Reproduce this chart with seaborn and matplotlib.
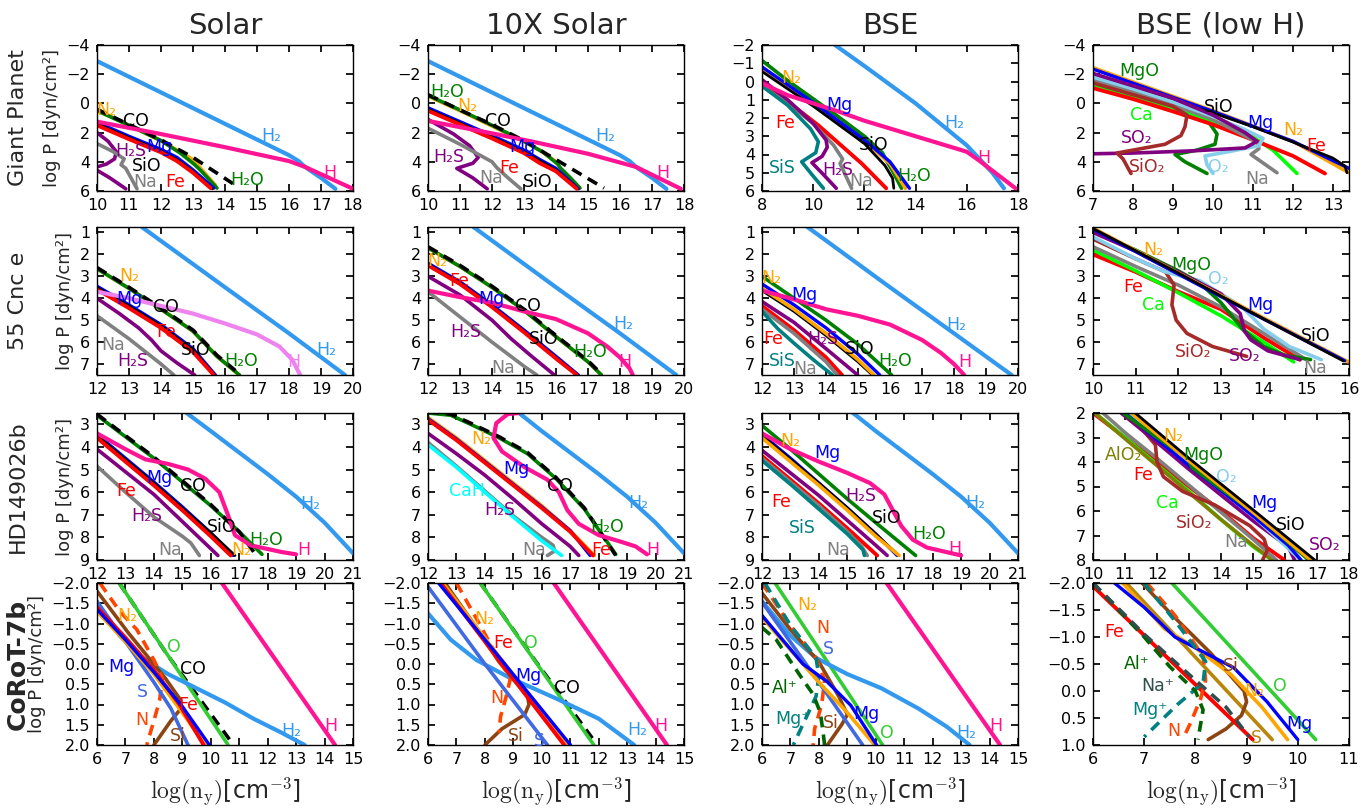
import matplotlib
matplotlib.use("Agg")
import matplotlib.pyplot as plt
import seaborn as sns
import numpy as np

COLUMN_TITLES = ["Solar", "10X Solar", "BSE", "BSE (low H)"]
ROW_TITLES = ["Giant Planet", "55 Cnc e", "HD149026b", "CoRoT-7b"]

SPECIES_TEXT = {
    "H2": "H\u2082", "H": "H", "H_v": "H", "H2O": "H\u2082O", "CO": "CO", "N2": "N\u2082",
    "Mg": "Mg", "Fe": "Fe", "SiO": "SiO", "H2S": "H\u2082S", "Na": "Na", "SiS": "SiS",
    "MgO": "MgO", "Ca": "Ca", "SO2": "SO\u2082", "SiO2": "SiO\u2082", "O2": "O\u2082",
    "CaH": "CaH", "AlO2": "AlO\u2082", "O": "O", "S": "S", "S_g": "S", "N": "N",
    "Si": "Si", "Al+": "Al\u207a", "Mg+": "Mg\u207a", "Na+": "Na\u207a",
}

# ---------------- Giant Planet ----------------
gp_solar = {
    "N2": ([10, 11, 12, 13, 13.7], [0.45, 1.5, 2.55, 3.85, 5.6]),
    "H2O": ([10, 11, 12, 12.6, 13.0, 13.2, 13.5, 13.75], [0.5, 1.5, 2.55, 3.4, 4.1, 4.5, 5.2, 5.8]),
    "CO": ([10, 11, 12, 13, 14.25], [0.4, 1.45, 2.5, 3.7, 5.5]),
    "Mg": ([10, 11, 12, 12.5, 13, 13.65], [1.3, 2.25, 3.15, 3.7, 4.55, 5.8]),
    "SiO": ([10, 11, 12, 12.5, 13, 13.6], [1.4, 2.35, 3.25, 3.85, 4.65, 5.85]),
    "Fe": ([10, 11, 12, 12.5, 13, 13.55], [1.5, 2.45, 3.35, 3.95, 4.75, 5.8]),
    "H2S": ([10.0, 10.35, 10.6, 10.55, 10.3, 10.0, 9.9, 10.4, 10.9], [2.0, 2.6, 3.3, 3.8, 4.15, 4.35, 4.45, 5.1, 5.85]),
    "Na": ([10, 10.5, 10.85, 10.75, 10.9, 11.25], [2.75, 3.3, 3.8, 4.2, 4.45, 5.85]),
    "H2": ([10, 12, 14, 16, 16.3, 16.5, 17, 17.45], [-2.9, -0.75, 1.4, 3.55, 3.95, 4.35, 5.1, 5.85]),
    "H": ([10, 12, 14, 16, 16.5, 17, 18], [1.25, 2.1, 3.0, 3.95, 4.35, 4.85, 5.85]),
}
gp_solar_labels = [("N2", 10.3, 0.45), ("CO", 11.23, 1.2), ("Mg", 11.96, 2.96), ("H2S", 11.07, 3.28),
                   ("SiO", 11.55, 4.3), ("Na", 11.5, 5.4), ("Fe", 12.43, 5.4), ("H2O", 14.7, 5.23),
                   ("H2", 15.44, 2.26), ("H", 17.28, 4.8)]

gp_10x = {
    "N2": ([10, 11, 12, 13, 13.6, 14.0], [-0.5, 0.5, 1.55, 2.6, 3.35, 4.0]),
    "H2O": ([10, 11, 12, 13, 13.6, 14.05, 14.15, 14.45, 14.75], [-0.55, 0.45, 1.5, 2.6, 3.35, 4.15, 4.45, 5.1, 5.8]),
    "CO": ([10, 11, 12, 13, 14, 15.5], [-0.6, 0.45, 1.45, 2.55, 3.85, 5.8]),
    "Mg": ([10, 11, 12, 13, 13.5, 14, 14.7], [0.3, 1.25, 2.2, 3.2, 3.85, 4.45, 5.85]),
    "SiO": ([10, 11, 12, 13, 13.5, 14, 14.68], [0.4, 1.35, 2.3, 3.3, 3.95, 4.55, 5.85]),
    "Fe": ([10, 11, 12, 13, 13.5, 14, 14.65], [0.5, 1.45, 2.4, 3.4, 4.1, 4.65, 5.85]),
    "H2S": ([10, 10.8, 11.3, 11.57, 11.4, 10.9, 11.4, 11.85], [1.1, 2.1, 2.9, 3.7, 4.1, 4.45, 5.1, 5.85]),
    "Na": ([10, 11, 12, 12.15, 12.5, 12.9], [1.7, 2.8, 4.0, 4.4, 5.1, 5.85]),
    "H2": ([10, 12, 14, 16, 16.3, 16.5, 17, 17.45], [-2.9, -0.75, 1.4, 3.55, 3.95, 4.35, 5.1, 5.85]),
    "H": ([10, 12, 13.33, 15, 16.5, 17.9], [1.2, 2.05, 2.65, 3.45, 4.35, 5.85]),
}
gp_10x_labels = [("H2O", 10.59, -0.75), ("N2", 11.22, 0.2), ("CO", 12.2, 1.2), ("Mg", 12.96, 2.96),
                 ("H2S", 10.64, 3.64), ("Fe", 12.55, 4.45), ("Na", 11.96, 5.1), ("SiO", 13.43, 5.4),
                 ("H2", 15.53, 2.26), ("H", 17.34, 4.77)]

gp_bse = {
    "H2O": ([8, 9, 10, 11, 12, 12.7, 12.85, 13.1, 13.45], [-1.15, -0.05, 0.95, 1.95, 3.0, 3.9, 4.3, 4.9, 5.85]),
    "N2": ([8, 10, 12, 13, 13.6], [-0.7, 1.2, 3.25, 4.5, 5.85]),
    "Mg": ([8, 10, 12, 13, 13.76], [-0.8, 1.15, 3.2, 4.4, 5.85]),
    "SiO": ([8, 10, 12, 12.8, 13.1, 13.15], [-0.55, 1.35, 3.4, 4.6, 5.3, 5.85]),
    "Fe": ([8, 9, 10.2, 11.9, 12.85], [0.05, 1.1, 2.4, 4.5, 5.85]),
    "Na": ([8, 9, 10, 10.8, 11.15, 11.05, 11.5], [0.25, 1.2, 2.3, 3.5, 4.25, 4.5, 5.85]),
    "H2S": ([8, 9, 10, 10.5, 10.55, 10.35, 9.95, 10.4, 10.9], [-0.1, 1.0, 2.3, 3.2, 3.6, 4.1, 4.45, 5.1, 5.85]),
    "SiS": ([8, 9, 9.9, 10.2, 10.1, 9.55, 9.95, 10.4], [0.25, 1.3, 2.6, 3.3, 3.9, 4.4, 5.1, 5.85]),
    "H2": ([10.85, 12, 14, 16, 16.4, 17, 17.45], [-2, -0.85, 1.2, 3.5, 4.1, 5.0, 5.85]),
    "H": ([8, 9, 10, 11, 12, 14, 16, 16.5, 17.9], [0.1, 0.75, 1.2, 1.65, 2.15, 3.0, 3.85, 4.35, 5.85]),
}
gp_bse_labels = [("N2", 9.15, -0.17), ("Mg", 11.03, 1.28), ("Fe", 8.9, 2.3), ("SiO", 12.36, 3.5),
                 ("SiS", 8.8, 4.72), ("H2S", 10.97, 4.86), ("Na", 11.88, 5.45), ("H2O", 13.94, 5.2),
                 ("H2", 15.5, 2.3), ("H", 16.67, 4.18)]

gp_low = {
    "N2": ([7, 10, 12, 13.4], [-2.45, 0.5, 2.6, 4.75]),
    "Mg": ([7, 10, 12, 13.4], [-2.35, 0.55, 2.6, 4.45]),
    "SiO": ([7, 8, 9, 10, 11, 12, 13, 13.3, 13.35], [-2.05, -1.1, -0.2, 0.65, 1.6, 2.65, 3.75, 4.3, 4.75]),
    "MgO": ([7, 8, 9, 9.5, 9.9, 10.1, 10.05, 9.6, 9.05, 9.3, 9.85], [-1.5, -0.7, 0.1, 0.6, 1.3, 2.1, 2.8, 3.2, 3.5, 4.0, 4.8]),
    "Ca": ([7, 8, 9, 10, 11, 11.5, 12.1], [-1.3, -0.5, 0.35, 1.25, 2.3, 3.2, 4.8]),
    "Fe": ([7, 8, 9, 10, 11, 12, 12.8], [-1.05, -0.3, 0.55, 1.45, 2.5, 3.6, 4.8]),
    "Na": ([7, 8, 9, 10, 11.1, 11.15, 10.95, 11.6], [-1.6, -0.8, 0.1, 1.1, 2.65, 3.1, 3.5, 4.75]),
    "O2": ([7, 8, 9, 10, 10.8, 11.25, 11.15, 10.4, 9.8, 9.85, 10.0], [-1.8, -1.0, -0.1, 0.9, 1.8, 2.4, 2.9, 3.3, 3.6, 4.2, 4.8]),
    "SO2": ([7, 8, 9, 10, 10.8, 11.1, 10.8, 9.5, 8, 7], [-2.05, -1.2, -0.35, 0.8, 2.0, 2.6, 3.05, 3.25, 3.4, 3.45]),
    "SiO2": ([7, 8, 9, 9.35, 9.3, 9.2, 8.8, 8, 7.6, 7.75, 7.95], [-1.4, -0.6, 0.2, 0.8, 1.6, 2.2, 2.8, 3.2, 3.4, 3.8, 4.8]),
}
gp_low_labels = [("MgO", 8.16, -2.22), ("SiO", 10.14, 0.28), ("Ca", 8.2, 0.8), ("Mg", 11.19, 1.33),
                 ("N2", 12.0, 1.84), ("Fe", 12.59, 2.9), ("SO2", 8.09, 2.39), ("SiO2", 8.36, 4.34),
                 ("O2", 10.14, 4.34), ("Na", 11.1, 5.2)]

# ---------------- 55 Cnc e ----------------
cnc_solar = {
    "N2": ([12, 13, 14, 15, 15.75, 16.45], [2.65, 3.55, 4.5, 5.5, 6.65, 7.5]),
    "H2O": ([12, 13, 14, 15, 15.75, 16.45], [2.65, 3.55, 4.5, 5.5, 6.65, 7.5]),
    "CO": ([12, 13, 14, 15, 15.75, 16.45], [2.6, 3.5, 4.45, 5.45, 6.6, 7.45]),
    "Mg": ([12, 13, 14, 15, 15.7], [3.45, 4.3, 5.2, 6.3, 7.5]),
    "SiO": ([12, 13, 14, 15, 15.68], [3.5, 4.35, 5.25, 6.35, 7.5]),
    "Fe": ([12, 13, 14, 15, 15.65], [3.6, 4.45, 5.35, 6.45, 7.5]),
    "H2S": ([12, 12.7, 13.3, 13.7, 14.0, 14.5, 15.05], [4.0, 4.7, 5.35, 5.9, 6.4, 6.95, 7.5]),
    "Na": ([12, 13, 14, 14.4], [4.8, 5.85, 7.0, 7.5]),
    "H2": ([13.4, 16, 18, 19.75], [0.75, 3.5, 5.6, 7.5]),
    "H_v": ([12, 13, 14, 15, 16, 17, 17.7, 18.1, 18.35], [3.7, 4.0, 4.35, 4.7, 5.15, 5.65, 6.2, 6.8, 7.5]),
}
cnc_solar_labels = [("N2", 13.02, 3.0), ("Mg", 13.0, 4.04), ("CO", 14.15, 4.39), ("Fe", 14.15, 5.53),
                    ("SiO", 15.07, 6.36), ("Na", 12.49, 6.14), ("H2S", 13.12, 6.86), ("H2O", 16.49, 6.86),
                    ("H_v", 18.15, 6.9), ("H2", 19.17, 6.36)]

cnc_10x = {
    "N2": ([12, 13, 14, 15, 16, 17, 17.42], [1.7, 2.55, 3.5, 4.55, 5.75, 6.9, 7.5]),
    "H2O": ([12, 13, 14, 15, 16, 17, 17.42], [1.7, 2.55, 3.5, 4.55, 5.75, 6.9, 7.5]),
    "CO": ([12, 13, 14, 15, 16, 17, 17.42], [1.65, 2.5, 3.45, 4.5, 5.7, 6.85, 7.45]),
    "Mg": ([12, 13, 14, 15, 16, 16.7], [2.4, 3.25, 4.3, 5.45, 6.65, 7.5]),
    "SiO": ([12, 13, 14, 15, 16, 16.68], [2.45, 3.3, 4.35, 5.5, 6.7, 7.5]),
    "Fe": ([12, 13, 14, 15, 16, 16.65], [2.5, 3.35, 4.4, 5.55, 6.75, 7.5]),
    "H2S": ([12, 13, 14, 14.6, 15.2, 15.95], [3.0, 3.85, 5.0, 5.85, 6.6, 7.5]),
    "Na": ([12, 13, 14, 15, 15.4], [3.7, 4.85, 6.0, 7.1, 7.5]),
    "H2": ([13.42, 16, 18, 19.76], [0.75, 3.5, 5.6, 7.5]),
    "H": ([12, 13, 14, 15, 16, 17, 17.6, 18.0, 18.3, 18.4], [3.65, 3.95, 4.2, 4.6, 4.95, 5.6, 6.2, 6.7, 7.2, 7.5]),
}
cnc_10x_labels = [("N2", 12.29, 2.29), ("Fe", 12.99, 3.21), ("Mg", 13.97, 4.04), ("CO", 15.12, 4.36),
                  ("H2S", 13.17, 5.53), ("SiO", 15.61, 5.86), ("H2O", 17.08, 6.43), ("Na", 14.34, 7.19),
                  ("H2", 18.1, 5.19), ("H", 18.15, 6.9)]

cnc_bse = {
    "H2O": ([12, 13, 14, 15, 16.05], [3.0, 4.0, 5.0, 6.1, 7.5]),
    "Mg": ([12, 13, 14, 15, 15.68], [3.35, 4.3, 5.35, 6.55, 7.5]),
    "SiO": ([12, 13, 14, 15, 15.45], [3.65, 4.6, 5.7, 6.9, 7.5]),
    "N2": ([12, 13, 14, 15, 15.5], [3.55, 4.5, 5.6, 6.8, 7.5]),
    "H2S": ([12, 13, 14, 14.99], [4.15, 5.1, 6.3, 7.5]),
    "Fe": ([12, 13, 14, 14.5], [4.35, 5.45, 6.7, 7.5]),
    "Na": ([12, 13, 14, 14.35], [4.5, 5.6, 6.9, 7.5]),
    "SiS": ([12, 12.5, 13, 13.6, 14.2], [4.6, 5.4, 6.05, 6.8, 7.5]),
    "H2": ([13.42, 16, 18, 19.8], [0.75, 3.5, 5.6, 7.5]),
    "H": ([12, 13, 14, 15, 16, 17, 17.6, 18.0, 18.32], [3.65, 4.05, 4.5, 4.8, 5.2, 5.9, 6.5, 7.0, 7.5]),
}
cnc_bse_labels = [("N2", 12.3, 3.07), ("Mg", 13.32, 3.86), ("Fe", 12.34, 5.86), ("H2S", 13.91, 5.86),
                  ("SiO", 15.04, 6.33), ("H2O", 16.17, 6.86), ("SiS", 12.64, 6.86), ("Na", 13.34, 7.21),
                  ("H2", 18.08, 5.21), ("H", 18.33, 6.9)]

cnc_low = {
    "Fe": ([10, 11, 12, 13, 14, 14.85], [2.0, 2.8, 3.7, 4.5, 5.8, 6.8]),
    "Ca": ([10, 11, 12, 13, 14, 14.7], [1.8, 2.75, 3.75, 4.8, 6.0, 6.9]),
    "Na": ([10, 11, 12, 13, 14, 15], [1.65, 2.55, 3.4, 4.4, 5.6, 6.8]),
    "SiO2": ([10, 11, 11.7, 11.9, 11.85, 11.95, 12.2, 12.8, 13.6], [1.3, 2.2, 2.8, 3.4, 4.3, 5.0, 5.6, 6.2, 6.65]),
    "O2": ([10, 11, 11.7, 12.5, 13.5, 14, 14.6, 15.35], [1.2, 2.2, 2.8, 3.2, 4.4, 5.4, 6.2, 6.8]),
    "MgO": ([10, 11, 12, 12.5, 13, 13.5, 14, 14.5, 15.1], [0.95, 1.8, 2.75, 3.3, 4.2, 5.4, 6.2, 6.6, 6.8]),
    "SO2": ([10, 11, 12, 13, 13.45, 13.55, 13.7, 14.1, 14.85], [1.0, 1.85, 2.8, 3.8, 4.7, 5.5, 5.9, 6.4, 6.8]),
    "N2": ([10, 12, 14, 15.98], [0.8, 2.85, 4.9, 6.9]),
    "Mg": ([10, 12, 14, 15.9], [0.85, 2.9, 4.95, 6.85]),
    "SiO": ([10, 12, 14, 15.87], [0.82, 2.85, 4.95, 6.86]),
}
cnc_low_labels = [("N2", 11.41, 1.79), ("MgO", 12.31, 2.5), ("O2", 12.93, 3.14), ("Fe", 10.95, 3.5),
                  ("Ca", 11.41, 4.33), ("Mg", 13.92, 4.33), ("SiO", 15.21, 5.71), ("SiO2", 12.35, 6.47),
                  ("SO2", 13.56, 6.64), ("Na", 15.21, 7.19)]

# ---------------- HD149026b ----------------
hd_solar = {
    "N2": ([12, 13, 14, 15, 16, 16.75], [3.5, 4.55, 5.6, 6.7, 7.85, 8.8]),
    "H2O": ([12, 13, 14, 15, 16, 17, 17.8], [2.6, 3.55, 4.5, 5.55, 6.6, 7.75, 8.75]),
    "CO": ([12, 13, 14, 15, 16, 17, 17.6], [2.55, 3.5, 4.45, 5.5, 6.55, 7.75, 8.8]),
    "Mg": ([12, 13, 14, 15, 16, 16.8], [3.45, 4.5, 5.55, 6.65, 7.8, 8.8]),
    "SiO": ([12, 13, 14, 15, 16, 16.85], [3.5, 4.55, 5.6, 6.7, 7.8, 8.8]),
    "Fe": ([12, 13, 14, 15, 16, 16.7], [3.6, 4.65, 5.7, 6.8, 7.95, 8.8]),
    "H2S": ([12, 13, 14, 15, 16, 16.25], [4.1, 5.1, 6.1, 7.3, 8.5, 8.8]),
    "Na": ([12, 13, 14, 15, 15.3, 15.6], [4.85, 6.0, 7.1, 7.95, 8.25, 8.8]),
    "H2": ([15.15, 16, 17, 18, 19, 20, 21], [2.5, 3.3, 4.25, 5.2, 6.2, 7.35, 8.7]),
    "H": ([12, 13, 13.7, 14.5, 15.2, 15.8, 16.3, 16.6, 16.85, 17.4, 18.5, 19.0], [3.4, 4.1, 4.55, 4.75, 5.0, 5.4, 6.0, 7.0, 7.9, 8.35, 8.65, 8.75]),
}
hd_solar_labels = [("Mg", 14.2, 5.39), ("CO", 15.38, 5.71), ("Fe", 13.03, 5.95), ("H2S", 13.76, 7.06),
                   ("SiO", 16.4, 7.54), ("H2O", 17.95, 8.1), ("Na", 14.57, 8.57), ("N2", 17.07, 8.57),
                   ("H", 19.27, 8.57), ("H2", 19.49, 6.54)]

hd_10x = {
    "H2O": ([12, 12.8, 13.5, 14.5, 15.5, 16.5, 17.5, 18.6], [2.5, 2.6, 3.0, 3.6, 4.3, 5.4, 6.75, 8.75]),
    "CO": ([12, 12.8, 13.5, 14.5, 15.5, 16.5, 17.5, 18.6], [2.45, 2.55, 2.95, 3.55, 4.25, 5.35, 6.7, 8.8]),
    "N2": ([12, 13, 14, 15, 16, 17, 17.85], [2.7, 3.6, 4.6, 5.6, 6.6, 7.7, 8.8]),
    "Mg": ([12, 13, 14, 15, 16, 17, 17.7], [2.75, 3.65, 4.65, 5.65, 6.65, 7.7, 8.8]),
    "Fe": ([12, 13, 14, 15, 16, 17, 17.8], [2.8, 3.7, 4.7, 5.7, 6.7, 7.75, 8.8]),
    "H2S": ([12, 13, 14, 15, 16, 17, 17.3], [3.4, 4.3, 5.25, 6.3, 7.4, 8.4, 8.8]),
    "Na": ([12, 13, 14, 15, 16, 16.4, 16.45, 16.2], [3.8, 4.85, 5.95, 7.05, 8.0, 8.35, 8.6, 8.8]),
    "CaH": ([12, 13, 14, 15, 16, 16.7], [3.9, 4.9, 6.0, 7.1, 8.15, 8.8]),
    "H2": ([15.2, 16, 17, 18, 19, 20, 21], [2.5, 3.3, 4.25, 5.2, 6.2, 7.35, 8.7]),
    "H": ([15.2, 14.8, 14.4, 14.3, 14.6, 15.4, 16.2, 16.6, 16.9, 17.3, 18.0, 18.8, 19.3, 19.7],
          [2.5, 2.55, 2.95, 3.6, 4.2, 4.9, 5.45, 6.0, 6.8, 7.4, 7.9, 8.2, 8.4, 8.75]),
}
hd_10x_labels = [("N2", 13.88, 3.67), ("Mg", 15.09, 4.98), ("CO", 16.65, 5.71), ("CaH", 13.38, 5.95),
                 ("H2S", 14.52, 6.78), ("H2O", 18.3, 7.54), ("Na", 15.73, 8.57), ("Fe", 18.1, 8.57),
                 ("H", 19.9, 8.57), ("H2", 19.4, 6.5)]

hd_bse = {
    "H2O": ([12, 13, 14, 15, 16, 17.4], [3.05, 4.1, 5.2, 6.3, 7.35, 8.8]),
    "Mg": ([12, 13, 14, 15, 16, 16.75], [3.45, 4.5, 5.6, 6.7, 7.85, 8.8]),
    "SiO": ([12, 13, 14, 15, 16, 16.8], [3.5, 4.55, 5.6, 6.7, 7.85, 8.8]),
    "N2": ([12, 13, 14, 15, 16, 16.82], [3.6, 4.65, 5.7, 6.8, 7.95, 8.8]),
    "H2S": ([12, 13, 14, 15, 16, 16.4], [4.15, 5.15, 6.15, 7.25, 8.35, 8.8]),
    "Fe": ([12, 13, 14, 15, 15.7, 16.05], [4.4, 5.45, 6.5, 7.6, 8.4, 8.8]),
    "Na": ([12, 13, 14, 15, 15.5, 15.7], [4.5, 5.55, 6.6, 7.75, 8.4, 8.8]),
    "SiS": ([12, 13, 14, 15, 15.55, 15.6], [4.6, 5.65, 6.75, 7.85, 8.55, 8.8]),
    "H2": ([15.2, 16, 17, 18, 19, 20, 21], [2.5, 3.3, 4.25, 5.2, 6.2, 7.35, 8.7]),
    "H": ([12, 12.5, 13, 14, 15, 15.8, 16.3, 16.6, 16.9, 17.3, 17.8, 19], [3.4, 3.75, 4.1, 4.65, 5.15, 5.6, 6.1, 6.8, 7.5, 8.1, 8.45, 8.8]),
}
hd_bse_labels = [("N2", 12.99, 3.74), ("Mg", 14.29, 4.29), ("H2S", 15.46, 6.15), ("Fe", 12.68, 6.43),
                 ("SiO", 16.39, 7.13), ("SiS", 13.42, 7.6), ("H2O", 17.86, 7.85), ("Na", 14.68, 8.57),
                 ("H", 18.79, 8.5), ("H2", 19.5, 6.5)]

hd_low = {
    "Fe": ([10.0, 11, 12, 13, 14, 15, 15.98], [2.0, 3.0, 4.0, 5.0, 6.0, 7.1, 8.0]),
    "Ca": ([10.06, 11, 12, 13, 14, 15, 15.6], [2.0, 3.0, 4.1, 5.2, 6.35, 7.45, 8.0]),
    "AlO2": ([10.06, 11, 12, 13, 14, 15, 15.6], [2.0, 3.05, 4.15, 5.25, 6.35, 7.4, 8.0]),
    "Na": ([10.31, 11, 12, 13, 14, 15, 15.73], [2.0, 2.8, 3.85, 4.95, 6.05, 7.15, 8.0]),
    "SiO2": ([10.9, 11.5, 11.95, 12.0, 12.2, 12.8, 13.8, 14.9, 15.35, 15.45, 15.3], [2.0, 2.6, 3.3, 4.0, 4.6, 5.2, 5.75, 6.6, 7.15, 7.6, 8.0]),
    "SO2": ([10.88, 12, 13, 14, 15, 16.1, 16.3], [2.0, 3.2, 4.3, 5.35, 6.4, 7.46, 8.0]),
    "O2": ([11.13, 12, 13, 13.3, 14, 15, 16.49], [2.0, 2.95, 4.0, 4.35, 5.1, 6.2, 8.0]),
    "Mg": ([11.0, 13, 15, 16.1, 16.5], [2.0, 4.15, 6.2, 7.4, 8.0]),
    "MgO": ([10.94, 12, 12.96, 13.09, 14, 14.97, 16.74], [2.0, 3.0, 3.84, 4.22, 5.1, 6.0, 8.0]),
    "N2": ([11.2, 13, 15, 16.8], [2.0, 3.95, 6.05, 8.0]),
    "SiO": ([11.32, 13, 15, 16.93], [2.0, 3.85, 5.95, 8.0]),
}
hd_low_labels = [("N2", 12.52, 2.95), ("AlO2", 10.94, 3.72), ("MgO", 13.46, 3.72), ("Fe", 11.57, 4.54),
                 ("O2", 14.16, 4.6), ("Ca", 12.33, 5.69), ("Mg", 15.35, 5.69), ("SiO2", 13.15, 6.51),
                 ("SiO", 16.17, 6.57), ("Na", 14.48, 7.27), ("SO2", 17.24, 7.4)]

# ---------------- CoRoT-7b ----------------
co_solar = {
    "H": ([10.39, 14.37], [-2.0, 2.0]),
    "CO": ([6.78, 8.5, 10.75], [-2.0, -0.2, 1.95]),
    "O": ([6.78, 10.61], [-2.0, 2.0]),
    "H2": ([6, 6.8, 7.6, 8.5, 9.5, 10.5, 11.5, 12.5, 13.3], [-1.5, -0.7, -0.15, 0.25, 0.6, 0.95, 1.35, 1.7, 2.0]),
    "Si": ([6, 7.1, 8.4, 8.95, 8.95, 8.6, 8.0], [-1.8, -0.77, 0.35, 0.9, 1.1, 1.4, 2.0]),
    "N": ([6.1, 6.8, 7.4, 8.0, 8.3, 8.2, 8.0, 7.75], [-2.0, -1.3, -0.85, -0.1, 0.35, 0.9, 1.4, 2.0]),
    "S": ([6, 7, 8, 8.6, 9.2], [-1.55, -0.55, 0.45, 1.1, 2.0]),
    "N2": ([6, 7, 8, 9, 9.8], [-1.3, -0.55, 0.25, 1.2, 2.0]),
    "Fe": ([6, 7, 8, 8.9, 9.75], [-1.4, -0.65, 0.15, 1.0, 2.0]),
    "Mg": ([6, 7, 8, 9, 9.95], [-1.35, -0.6, 0.2, 1.05, 2.0]),
}
co_solar_labels = [("N2", 7.08, -1.19), ("O", 8.7, -0.43), ("Mg", 6.85, 0.07), ("CO", 9.36, 0.13),
                   ("S", 7.59, 0.68), ("Fe", 9.21, 1.02), ("N", 7.59, 1.38), ("Si", 8.84, 1.79),
                   ("H2", 12.82, 1.66), ("H", 14.22, 1.53)]

co_10x = {
    "H": ([10.42, 14.4], [-2.0, 2.0]),
    "CO": ([7.84, 9.8, 11.9], [-2.0, -0.05, 1.95]),
    "O": ([7.84, 11.83], [-2.0, 2.0]),
    "H2": ([6, 6.8, 7.7, 8.9, 10.5, 12, 13.25], [-1.25, -0.6, -0.1, 0.35, 0.85, 1.35, 2.0]),
    "Si": ([6.6, 7.5, 8.5, 9.5, 9.55, 9.4, 8.6, 8.0], [-2.0, -1.1, -0.05, 0.8, 1.0, 1.25, 1.6, 2.0]),
    "N": ([7.0, 7.8, 8.5, 8.9, 8.75, 8.55, 8.5], [-2.0, -1.0, -0.1, 0.35, 0.8, 1.3, 1.7]),
    "S": ([6, 8, 10.2], [-1.91, 0.0, 2.0]),
    "N2": ([6.52, 8.7, 10.87], [-2.0, 0.0, 2.0]),
    "Fe": ([6.44, 8.6, 10.79], [-2.0, 0.0, 2.0]),
    "Mg": ([6.37, 8.7, 11.01], [-2.0, 0.0, 2.0]),
}
co_10x_labels = [("N2", 7.99, -1.11), ("Fe", 8.65, -0.51), ("O", 9.61, -0.51), ("Mg", 9.54, 0.3),
                 ("CO", 10.87, 0.6), ("N", 8.43, 0.85), ("Si", 9.1, 1.79), ("S", 9.91, 1.91),
                 ("H2", 13.37, 1.62), ("H", 14.18, 1.53)]

co_bse = {
    "H": ([10.38, 14.37], [-2.0, 2.0]),
    "O": ([6.46, 10.24], [-2.0, 2.0]),
    "H2": ([6, 7, 7.9, 9, 10.2, 11.5, 12.5, 13.3], [-1.55, -0.7, -0.15, 0.25, 0.6, 1.1, 1.55, 2.0]),
    "Si": ([6.0, 7.0, 8.0, 8.7, 9.0, 8.8, 8.3], [-1.75, -0.85, -0.05, 0.8, 1.25, 1.5, 2.0]),
    "N": ([6.0, 7.0, 7.9, 8.2, 8.1, 7.85, 7.8], [-2.0, -0.95, -0.15, 0.4, 1.0, 1.6, 2.0]),
    "Mg+": ([6.1, 7.0, 7.9, 8.0, 7.9, 7.5, 7.1], [-2.0, -0.95, -0.15, 0.3, 0.8, 1.4, 2.0]),
    "Al+": ([6.0, 6.5, 7.4, 7.8, 8.05, 8.15, 8.2], [-0.9, -0.6, 0.35, 0.75, 1.2, 1.7, 2.0]),
    "S": ([6, 7.8, 9.54], [-1.53, 0.25, 2.0]),
    "N2": ([6, 7, 8, 9, 9.96], [-1.15, -0.35, 0.45, 1.2, 2.0]),
    "Mg": ([6, 7.44, 8.28, 9.12, 10.03], [-1.2, 0.0, 0.43, 1.02, 2.0]),
}
co_bse_labels = [("N2", 7.58, -1.45), ("N", 8.14, -0.89), ("S", 8.35, -0.38), ("Al+", 6.81, 0.6),
                 ("Mg+", 7.09, 1.36), ("Si", 8.42, 1.45), ("Mg", 9.68, 1.23), ("O", 10.38, 1.7),
                 ("H2", 13.18, 1.7), ("H", 14.23, 1.53)]

co_low = {
    "O": ([7.54, 10.35], [-2.0, 0.9]),
    "S_g": ([6.65, 9.5], [-2.0, 0.9]),
    "Si": ([6.96, 7.5, 8.3, 8.95, 9.0, 8.9, 8.6, 8.25], [-2.0, -1.45, -0.7, 0.0, 0.2, 0.45, 0.7, 0.9]),
    "N2": ([6.58, 7.4, 8.0, 8.7, 9.3, 9.8], [-2.0, -1.15, -0.8, -0.3, 0.3, 0.9]),
    "Mg": ([6.42, 7.0, 7.6, 8.2, 8.75, 9.4, 10.0], [-2.0, -1.55, -1.0, -0.7, -0.43, 0.2, 0.9]),
    "Fe": ([6, 9.12], [-1.94, 0.9]),
    "N": ([7.05, 7.6, 8.15, 8.2, 8.1, 7.9, 7.75], [-2.0, -1.4, -0.65, -0.2, 0.15, 0.6, 0.9]),
    "Mg+": ([7.0, 7.6, 8.2, 8.15, 7.65, 7.0], [-2.0, -1.3, -0.55, -0.15, 0.25, 0.85]),
    "Al+": ([6.0, 6.5, 7.0, 7.5, 8.0, 8.15, 8.05], [-2.0, -1.5, -1.0, -0.45, 0.0, 0.35, 0.9]),
    "Na+": ([6.0, 7.0, 8.0, 8.6, 9.05], [-2.0, -1.05, -0.2, 0.3, 0.85]),
}
co_low_labels = [("Fe", 6.42, -1.1), ("Si", 8.69, -0.47), ("Al+", 6.85, -0.5), ("Na+", 7.27, -0.1),
                 ("N2", 9.15, 0.0), ("O", 9.65, -0.1), ("Mg+", 7.12, 0.36), ("Mg", 10.04, 0.62),
                 ("N", 7.58, 0.75), ("S_g", 9.19, 0.87)]

PANELS = [
    [(gp_solar, gp_solar_labels), (gp_10x, gp_10x_labels), (gp_bse, gp_bse_labels), (gp_low, gp_low_labels)],
    [(cnc_solar, cnc_solar_labels), (cnc_10x, cnc_10x_labels), (cnc_bse, cnc_bse_labels), (cnc_low, cnc_low_labels)],
    [(hd_solar, hd_solar_labels), (hd_10x, hd_10x_labels), (hd_bse, hd_bse_labels), (hd_low, hd_low_labels)],
    [(co_solar, co_solar_labels), (co_10x, co_10x_labels), (co_bse, co_bse_labels), (co_low, co_low_labels)],
]

# ---------------- styling ----------------
STYLE = {  # color, linestyle, linewidth
    "H2": ("#3399ee", "-", 3.0), "H": ("#ff1493", "-", 3.0), "H_v": ("#ee82ee", "-", 3.0),
    "H2O": ("#008000", "-", 2.6), "CO": ("black", (0, (3, 2)), 2.6), "N2": ("#ffa500", "-", 2.6),
    "Mg": ("#0000ff", "-", 2.4), "Fe": ("#ff0000", "-", 2.8), "SiO": ("black", "-", 2.0),
    "H2S": ("#800080", "-", 2.6), "Na": ("#808080", "-", 2.6), "SiS": ("#008080", "-", 2.6),
    "MgO": ("#008000", "-", 2.6), "Ca": ("#00ff00", "-", 2.6), "SO2": ("#800080", "-", 2.6),
    "SiO2": ("#a52a2a", "-", 2.6), "O2": ("#87ceeb", "-", 2.6), "CaH": ("#00ffff", "-", 2.6),
    "AlO2": ("#808000", "-", 2.6), "O": ("#32cd32", "-", 2.6), "S": ("#4169e1", "-", 2.6),
    "S_g": ("#b8860b", "-", 2.6), "N": ("#ff4500", (0, (3, 2)), 2.6), "Si": ("#8b4513", "-", 2.6),
    "Al+": ("#006400", (0, (3, 2)), 2.6), "Mg+": ("#008080", (0, (3, 2)), 2.6),
    "Na+": ("#2f4f4f", (0, (3, 2)), 2.6),
}

XLIMS = [[(10, 18), (10, 18), (8, 18), (7, 13.4)],
         [(12, 20), (12, 20), (12, 20), (10, 16)],
         [(12, 21), (12, 21), (12, 21), (10, 18)],
         [(6, 15), (6, 15), (6, 15), (6, 11)]]
YLIMS = [[(6, -4), (6, -4), (6, -2), (6, -4)],
         [(7.5, 0.75), (7.5, 0.75), (7.5, 0.75), (7.5, 0.75)],
         [(9, 2.5), (9, 2.5), (9, 2.5), (8, 2)],
         [(2, -2), (2, -2), (2, -2), (1, -2)]]
XSTEP = [[1, 1, 2, 1], [1, 1, 1, 1], [1, 1, 1, 1], [1, 1, 1, 1]]
YSTEP = [[2, 2, 1, 2], [1, 1, 1, 1], [1, 1, 1, 1], [0.5, 0.5, 0.5, 0.5]]

sns.set_theme(style="ticks")
plt.rcParams.update({
    "font.family": ["DejaVu Sans"],
    "mathtext.fontset": "cm",
    "xtick.direction": "in", "ytick.direction": "in",
    "xtick.top": True, "ytick.right": True,
    "xtick.major.size": 5, "ytick.major.size": 5,
    "xtick.major.pad": 5, "ytick.major.pad": 5,
    "xtick.labelsize": 11.5, "ytick.labelsize": 11.5,
    "axes.edgecolor": "black", "axes.linewidth": 1.0,
    "xtick.color": "black", "ytick.color": "black",
})

W, H = 1365, 809
fig = plt.figure(figsize=(W / 100, H / 100), dpi=100)

COL_LEFT = [97, 428, 762, 1093]
COL_W = [256, 256, 256, 256]
ROW_TOP = [45, 227, 413, 583]
ROW_H = [146, 148, 147, 162]

for r in range(4):
    for c in range(4):
        curves, labels = PANELS[r][c]
        ax = fig.add_axes([COL_LEFT[c] / W, 1 - (ROW_TOP[r] + ROW_H[r]) / H, COL_W[c] / W, ROW_H[r] / H])
        for key, (xs, ys) in curves.items():
            color, ls, lw = STYLE[key]
            sns.lineplot(x=xs, y=ys, sort=False, estimator=None, color=color,
                         linewidth=lw, linestyle=ls, ax=ax, legend=False)
        for key, lx, ly in labels:
            ax.text(lx, ly, SPECIES_TEXT[key], color=STYLE[key][0], fontsize=12.5,
                    ha="center", va="center")
        x0, x1 = XLIMS[r][c]
        y0, y1 = YLIMS[r][c]
        ax.set_xlim(x0, x1)
        ax.set_ylim(y0, y1)
        ax.set_xticks(np.arange(np.ceil(x0), x1 + 1e-6, XSTEP[r][c]))
        st = YSTEP[r][c]
        ax.set_yticks(np.arange(np.ceil(min(y0, y1) / st) * st, max(y0, y1) + 1e-6, st))
        ax.set_xlabel("")
        ax.set_ylabel("")
        if r == 0:
            ax.set_title(COLUMN_TITLES[c], fontsize=21, pad=8)
        if c == 0:
            ax.set_ylabel("log P [dyn/cm\u00b2]", fontsize=13, labelpad=4)
            ax.text(-0.31, 0.5, ROW_TITLES[r], transform=ax.transAxes, rotation=90,
                    fontsize=18 if r == 3 else 16, fontweight="bold" if r == 3 else "normal",
                    ha="center", va="center")
        if r == 3:
            ax.set_xlabel(r"$\mathrm{log(n_y)}$[cm$^{-3}$]", fontsize=17, labelpad=6)

fig.savefig("out.png", dpi=100)
